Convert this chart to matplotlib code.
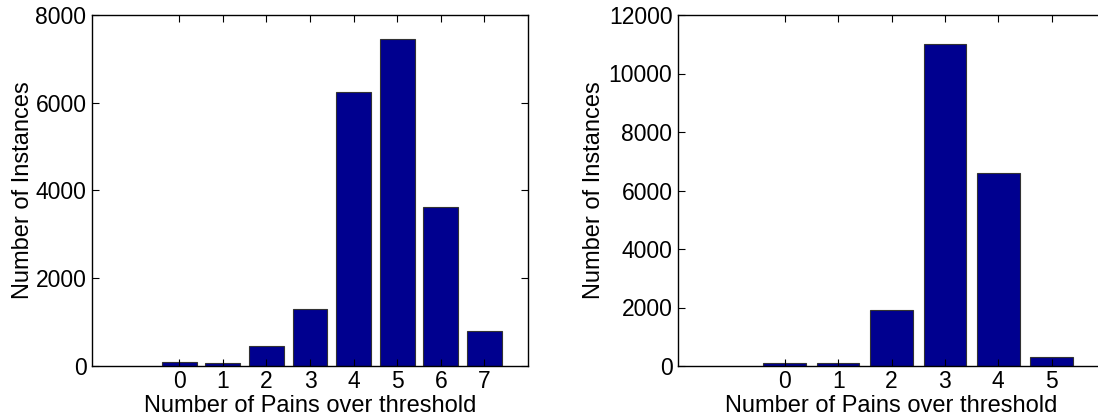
import numpy as np
import matplotlib
matplotlib.use('Agg')
import matplotlib.pyplot as plt

plt.rcParams['font.family'] = ['Liberation Sans', 'DejaVu Sans']

# left panel data
pains_a = [0, 1, 2, 3, 4, 5, 6, 7]
counts_a = [100, 60, 455, 1300, 6240, 7450, 3620, 800]
yticks_a = [0, 2000, 4000, 6000, 8000]

# right panel data
pains_b = [0, 1, 2, 3, 4, 5]
counts_b = [90, 100, 1930, 11000, 6600, 310]
yticks_b = [0, 2000, 4000, 6000, 8000, 10000, 12000]

bar_color = '#00008F'

fig = plt.figure(figsize=(10.98, 4.17), dpi=100)
ax1 = fig.add_axes([92/1098, 51/417, 436/1098, 351/417])
ax2 = fig.add_axes([678/1098, 51/417, 427/1098, 351/417])

def style(ax, xs, ys, yticks, ypad):
    ax.bar(xs, ys, width=0.8, color=bar_color, edgecolor='#333333', linewidth=0.8)
    ax.set_xlim(-2, len(xs))
    ax.set_ylim(yticks[0], yticks[-1])
    ax.set_xticks(xs)
    ax.set_yticks(yticks)
    ax.tick_params(direction='in', length=5, width=0.8, top=True, right=True,
                   labelsize=16.5, pad=4)
    ax.tick_params(axis='x', pad=3)
    for s in ax.spines.values():
        s.set_linewidth(1.0)
    ax.set_xlabel('Number of Pains over threshold', fontsize=17, labelpad=1)
    ax.set_ylabel('Number of Instances', fontsize=17, labelpad=ypad)

style(ax1, pains_a, counts_a, yticks_a, 1)
style(ax2, pains_b, counts_b, yticks_b, 3)

fig.savefig('out.png', dpi=100)
